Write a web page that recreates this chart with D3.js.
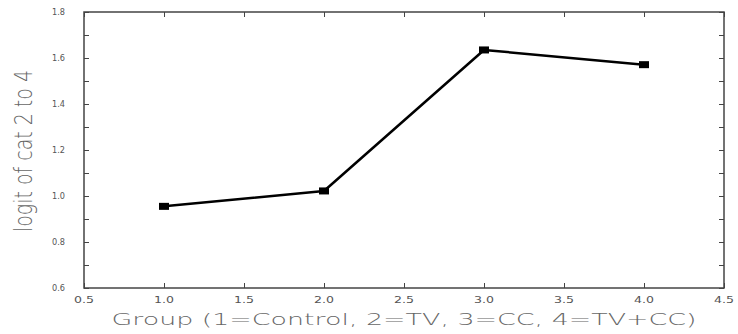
<!DOCTYPE html>
<html>
<head>
<meta charset="utf-8">
<script src="https://cdn.jsdelivr.net/npm/d3@7"></script>
<style>
  html, body { margin: 0; padding: 0; background: #fff; }
  svg { display: block; }
  text { font-family: "DejaVu Sans", sans-serif; }
</style>
</head>
<body>
<svg id="chart" width="738" height="334"></svg>
<script>
// Group means of the logit for categories 2 to 4
const groups = [1, 2, 3, 4];
const logits = [0.955, 1.022, 1.635, 1.571];
const xTicks = [0.5, 1.0, 1.5, 2.0, 2.5, 3.0, 3.5, 4.0, 4.5];
const yTicks = [0.6, 0.8, 1.0, 1.2, 1.4, 1.6, 1.8];
const yMinor = [0.7, 0.9, 1.1, 1.3, 1.5, 1.7];
const xTitle = "Group (1=Control, 2=TV, 3=CC, 4=TV+CC)";
const yTitle = "logit of cat 2 to 4";

const svg = d3.select("#chart");
const m = { left: 84, right: 724, top: 12, bottom: 288 };

const x = d3.scaleLinear().domain([0.5, 4.5]).range([m.left, m.right]);
const y = d3.scaleLinear().domain([0.6, 1.8]).range([m.bottom, m.top]);

const frameColor = "#444";
const labelColor = "#555";

// inward ticks on all four sides
function tickAxis(axis, transform) {
  const g = svg.append("g").attr("transform", transform).call(axis);
  g.select(".domain").remove();
  g.selectAll("line").attr("stroke", frameColor).attr("stroke-width", 1);
  return g;
}

tickAxis(d3.axisTop(x).tickValues(xTicks).tickSize(5).tickFormat(""), `translate(0,${m.bottom})`);
tickAxis(d3.axisBottom(x).tickValues(xTicks).tickSize(5).tickFormat(""), `translate(0,${m.top})`);
tickAxis(d3.axisRight(y).tickValues(yTicks.concat(yMinor)).tickSize(5).tickFormat(""), `translate(${m.left},0)`);
tickAxis(d3.axisLeft(y).tickValues(yTicks.concat(yMinor)).tickSize(5).tickFormat(""), `translate(${m.right},0)`);

// frame
svg.append("rect")
  .attr("x", m.left).attr("y", m.top)
  .attr("width", m.right - m.left).attr("height", m.bottom - m.top)
  .attr("fill", "none").attr("stroke", frameColor).attr("stroke-width", 1.5);

// tick labels
svg.append("g").selectAll("text").data(xTicks).join("text")
  .attr("x", d => x(d)).attr("y", m.bottom + 15)
  .attr("text-anchor", "middle")
  .attr("font-size", 9).attr("fill", labelColor)
  .attr("textLength", 20).attr("lengthAdjust", "spacingAndGlyphs")
  .text(d => d.toFixed(1));

svg.append("g").selectAll("text").data(yTicks).join("text")
  .attr("x", m.left - 19).attr("y", d => y(d) + 3)
  .attr("text-anchor", "end")
  .attr("font-size", 9).attr("fill", labelColor)
  .attr("textLength", 13).attr("lengthAdjust", "spacingAndGlyphs")
  .text(d => d.toFixed(1));

// axis titles
svg.append("text")
  .attr("x", x(2.5)).attr("y", 325)
  .attr("text-anchor", "middle")
  .attr("font-size", 16).attr("font-weight", 300).attr("fill", "#666")
  .attr("textLength", 585).attr("lengthAdjust", "spacingAndGlyphs")
  .text(xTitle);

svg.append("text")
  .attr("transform", `translate(32,${151}) rotate(-90)`)
  .attr("text-anchor", "middle")
  .attr("font-size", 24).attr("font-weight", 300).attr("fill", "#666")
  .attr("textLength", 162).attr("lengthAdjust", "spacingAndGlyphs")
  .text(yTitle);

// series line and markers
const pts = groups.map((g, i) => [g, logits[i]]);
svg.append("path")
  .datum(pts)
  .attr("fill", "none").attr("stroke", "#000").attr("stroke-width", 2.5)
  .attr("stroke-linejoin", "round")
  .attr("d", d3.line().x(d => x(d[0])).y(d => y(d[1])));

svg.append("g").selectAll("rect").data(pts).join("rect")
  .attr("x", d => x(d[0]) - 5).attr("y", d => y(d[1]) - 3.5)
  .attr("width", 10).attr("height", 7)
  .attr("fill", "#000");
</script>
</body>
</html>
